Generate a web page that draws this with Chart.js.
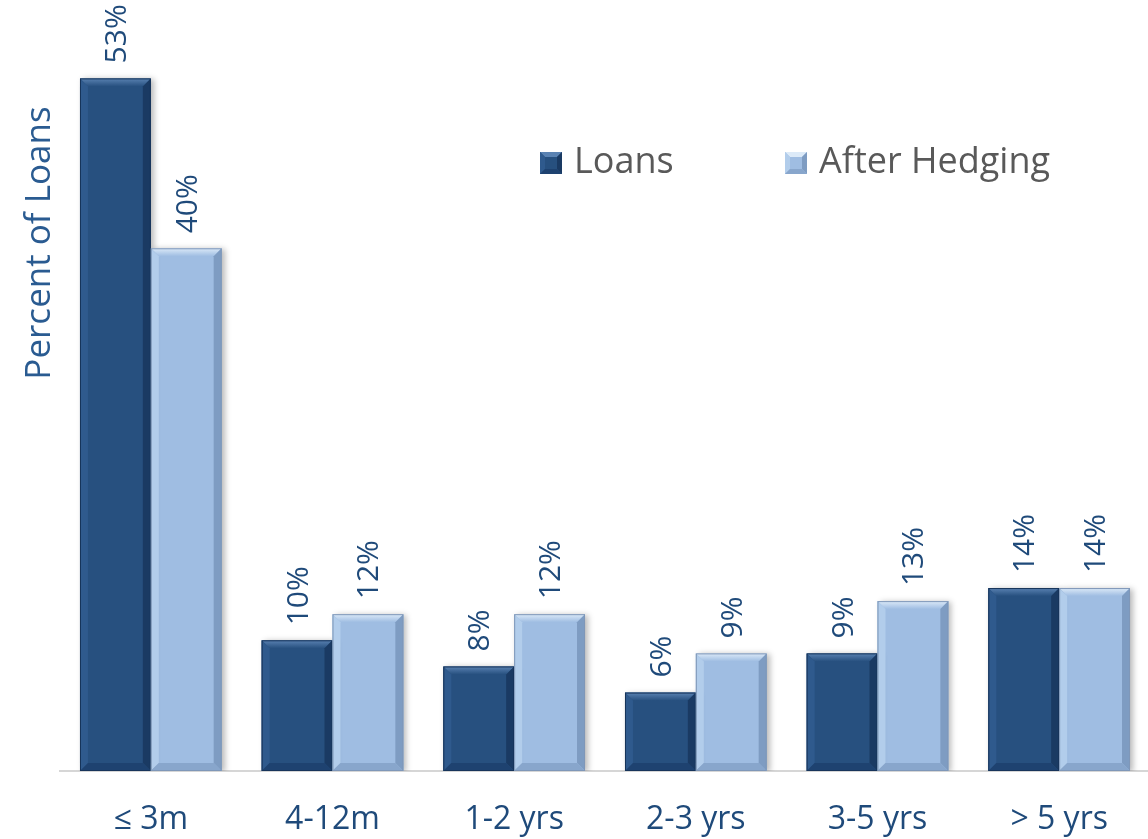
<!DOCTYPE html>
<html>
<head>
<meta charset="utf-8">
<title>Percent of Loans</title>
<script src="https://cdn.jsdelivr.net/npm/chart.js@4.4.1/dist/chart.umd.min.js"></script>
<style>
  html, body { margin: 0; padding: 0; background: #fff; overflow: hidden; }
  #wrap { position: relative; width: 1150px; height: 839px; }
</style>
</head>
<body>
<div id="wrap"><canvas id="loanChart"></canvas></div>
<script>
// ===== Chart data =====
const categories = ['≤ 3m', '4-12m', '1-2 yrs', '2-3 yrs', '3-5 yrs', '> 5 yrs'];
const loans = [53, 10, 8, 6, 9, 14];
const afterHedging = [40, 12, 12, 9, 13, 14];
const seriesNames = ['Loans', 'After Hedging'];

// ===== Colours =====
const bevel = [
    { base: '#27507F', top: '#5A82B2', left: '#2F5A8D', right: '#1A3A63', bottom: '#1E4270', edge: '#17345A' },
    { base: '#9FBDE2', top: '#DCEAF8', left: '#B2CDEB', right: '#7E9CC2', bottom: '#88A6CC', edge: '#7F97B8' }
];
const labelBlue = '#1F4A7A';
const fontFamily = '"Open Sans", "DejaVu Sans", sans-serif';

// draw a filled polygon
function poly(ctx, pts, fill) {
    ctx.beginPath();
    ctx.moveTo(pts[0][0], pts[0][1]);
    for (let i = 1; i < pts.length; i++) ctx.lineTo(pts[i][0], pts[i][1]);
    ctx.closePath();
    ctx.fillStyle = fill;
    ctx.fill();
}

// soft shadow behind the bars
const shadowPlugin = {
    id: 'barShadow',
    beforeDatasetsDraw(chart) {
        const ctx = chart.ctx;
        ctx.save();
        ctx.shadowColor = 'rgba(0,0,0,0.28)';
        ctx.shadowBlur = 6;
        ctx.shadowOffsetX = 3;
        ctx.shadowOffsetY = 1;
    },
    afterDatasetsDraw(chart) {
        chart.ctx.restore();
    }
};

// bevelled edges + rotated value labels
const bevelPlugin = {
    id: 'bevelBars',
    afterDatasetsDraw(chart) {
        const ctx = chart.ctx;
        chart.data.datasets.forEach((ds, di) => {
            const meta = chart.getDatasetMeta(di);
            const c = bevel[di];
            meta.data.forEach((bar, i) => {
                const p = bar.getProps(['x', 'y', 'base', 'width'], true);
                const l = p.x - p.width / 2, r = p.x + p.width / 2;
                const t = p.y, b = p.base;
                const s = Math.min(8, (b - t) / 2);
                ctx.save();
                const g = ctx.createLinearGradient(0, t, 0, t + s);
                g.addColorStop(0, c.top);
                g.addColorStop(1, c.base);
                poly(ctx, [[l, t], [r, t], [r - s, t + s], [l + s, t + s]], g);
                poly(ctx, [[l, t], [l + s, t + s], [l + s, b - s], [l, b]], c.left);
                poly(ctx, [[r, t], [r, b], [r - s, b - s], [r - s, t + s]], c.right);
                poly(ctx, [[l, b], [l + s, b - s], [r - s, b - s], [r, b]], c.bottom);
                ctx.strokeStyle = c.edge;
                ctx.lineWidth = 1;
                ctx.strokeRect(l + 0.5, t + 0.5, p.width - 1, b - t - 1);
                ctx.restore();

                // value label, reading bottom to top
                ctx.save();
                ctx.translate(p.x + 2, t - 15);
                ctx.rotate(-Math.PI / 2);
                ctx.font = '30px ' + fontFamily;
                ctx.fillStyle = labelBlue;
                ctx.textAlign = 'left';
                ctx.textBaseline = 'middle';
                ctx.fillText(ds.data[i] + '%', 0, 0);
                ctx.restore();
            });
        });
    }
};

// axis title and legend
const decorPlugin = {
    id: 'decor',
    afterDraw(chart) {
        const ctx = chart.ctx;
        ctx.save();
        ctx.translate(40, 243);
        ctx.rotate(-Math.PI / 2);
        ctx.font = '35px ' + fontFamily;
        ctx.fillStyle = '#2A5B91';
        ctx.textAlign = 'center';
        ctx.textBaseline = 'middle';
        ctx.fillText('Percent of Loans', 0, 0);
        ctx.restore();

        const items = [{ x: 540 }, { x: 785 }];
        items.forEach((it, di) => {
            const c = bevel[di];
            const l = it.x, t = 152, w = 22, s = 5;
            poly(ctx, [[l, t], [l + w, t], [l + w, t + w], [l, t + w]], c.base);
            poly(ctx, [[l, t], [l + w, t], [l + w - s, t + s], [l + s, t + s]], c.top);
            poly(ctx, [[l, t], [l + s, t + s], [l + s, t + w - s], [l, t + w]], c.left);
            poly(ctx, [[l + w, t], [l + w, t + w], [l + w - s, t + w - s], [l + w - s, t + s]], c.right);
            poly(ctx, [[l, t + w], [l + s, t + w - s], [l + w - s, t + w - s], [l + w, t + w]], c.bottom);
            ctx.font = '36px ' + fontFamily;
            ctx.fillStyle = '#595959';
            ctx.textAlign = 'left';
            ctx.textBaseline = 'middle';
            ctx.fillText(chart.data.datasets[di].label, l + 34, t + 11);
        });
        ctx.restore();
    }
};

new Chart(document.getElementById('loanChart'), {
    type: 'bar',
    data: {
        labels: categories,
        datasets: [
            { label: seriesNames[0], data: loans, backgroundColor: bevel[0].base, borderWidth: 0 },
            { label: seriesNames[1], data: afterHedging, backgroundColor: bevel[1].base, borderWidth: 0 }
        ]
    },
    options: {
        responsive: true,
        maintainAspectRatio: false,
        animation: false,
        layout: { padding: { left: 60, right: 0, top: 0, bottom: 0 } },
        datasets: {
            bar: { categoryPercentage: 0.78, barPercentage: 1.0 }
        },
        plugins: {
            legend: { display: false },
            tooltip: { enabled: false }
        },
        scales: {
            x: {
                grid: { display: false },
                border: { display: true, color: '#D6D6D6', width: 2 },
                ticks: {
                    font: { family: fontFamily, size: 32 },
                    color: labelBlue,
                    padding: 22,
                    maxRotation: 0
                },
                afterFit(scale) { scale.height = 68; }
            },
            y: {
                display: false,
                min: 0,
                max: 59
            }
        }
    },
    plugins: [shadowPlugin, bevelPlugin, decorPlugin]
});
</script>
</body>
</html>
